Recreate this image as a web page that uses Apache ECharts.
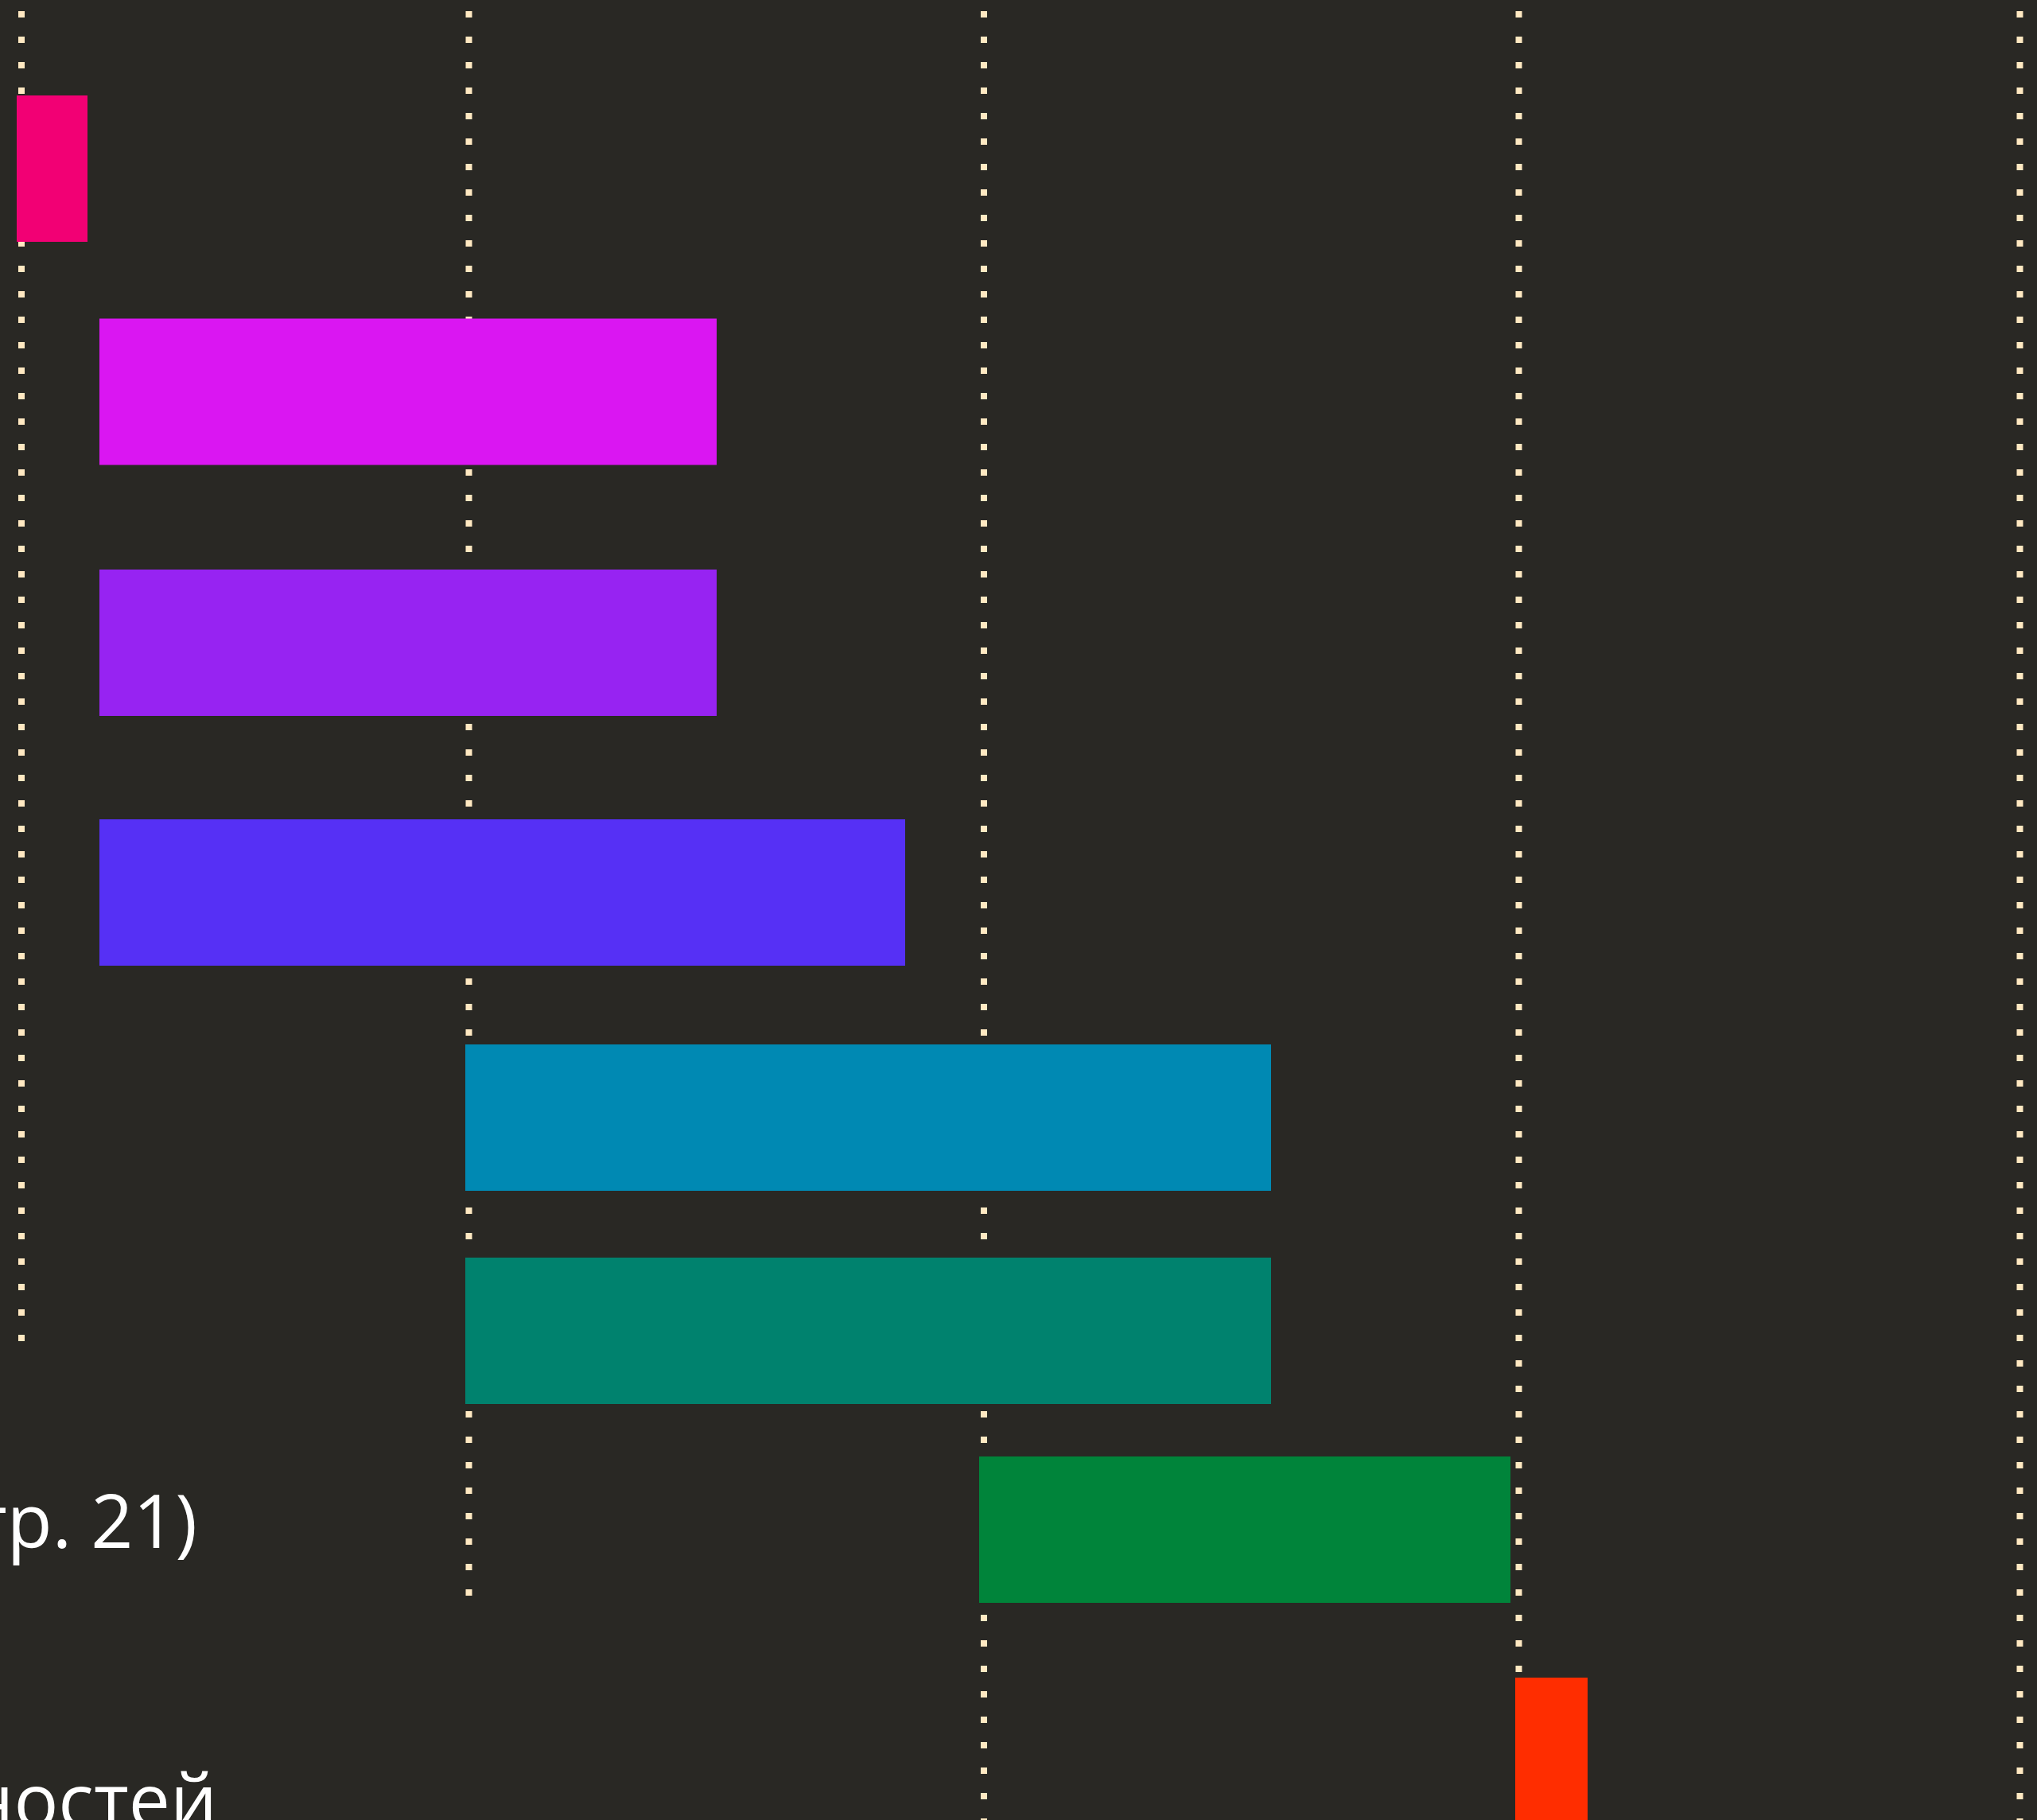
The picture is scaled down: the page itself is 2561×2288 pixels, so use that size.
<!DOCTYPE html>
<html>
<head>
<meta charset="utf-8">
<script src="https://cdn.jsdelivr.net/npm/echarts@6/dist/echarts.min.js"></script>
<style>
html,body{margin:0;padding:0;background:#292824;overflow:hidden;}
#chart{width:2561px;height:2288px;}
</style>
</head>
<body>
<div id="chart"></div>
<script>
// ---- data (timeline units along x, row positions along y) ----
const rowPositions = [212, 492.5, 808, 1122, 1405, 1673, 1923, 2201];
const taskStart    = [21, 125, 125, 125, 585, 585, 1231, 1905];
const taskEnd      = [110, 901, 901, 1138, 1598, 1598, 1899, 1996];
const taskLabels   = ['', '', '', '', '', '', '(см. стр. 21)', 'потребностей'];
const milestoneX    = [27, 589.5, 1237, 1909.5, 2539.5];
const milestoneEndY = [1686, 2006, 2300, 2300, 2300];

// ---- style / layout ----
const palette = ['#F20074', '#DA16F2', '#9723F2', '#5630F5', '#0089B3', '#00826E', '#00843A', '#FF2D00'];
const BG = '#292824';
const DOT = '#FFE9C2';
const BAR_THICKNESS = 184;
const LINE_START = 14;
const labelLayout = { 6: { right: 248, dy: -4 }, 7: { right: 273, dy: 69 } };

const barData = rowPositions.map((r, i) => [r, taskStart[i], taskEnd[i], i]);
const lineData = milestoneX.map((x, i) => [x, LINE_START, milestoneEndY[i]]);
const labelData = rowPositions.map((r, i) => [r, i]);

const chart = echarts.init(document.getElementById('chart'), null, { renderer: 'canvas' });
chart.setOption({
  backgroundColor: BG,
  animation: false,
  grid: { left: 0, right: 0, top: 0, bottom: 0, containLabel: false },
  xAxis: { type: 'value', min: 0, max: 2561, show: false, splitLine: { show: false } },
  yAxis: { type: 'value', min: 0, max: 2288, inverse: true, show: false, splitLine: { show: false } },
  series: [
    {
      type: 'custom',
      z: 1,
      clip: false,
      data: lineData,
      renderItem: function (params, api) {
        const p0 = api.coord([api.value(0), api.value(1)]);
        const p1 = api.coord([api.value(0), api.value(2)]);
        return {
          type: 'line',
          shape: { x1: p0[0], y1: p0[1], x2: p1[0], y2: p1[1] },
          style: { stroke: DOT, lineWidth: 8, lineDash: [8, 24], lineCap: 'butt' }
        };
      }
    },
    {
      type: 'custom',
      z: 2,
      clip: false,
      encode: { x: [1, 2], y: 0 },
      data: barData,
      renderItem: function (params, api) {
        const row = api.value(0);
        const a = api.coord([api.value(1), row]);
        const b = api.coord([api.value(2), row]);
        const h = Math.abs(api.size([0, BAR_THICKNESS])[1]);
        return {
          type: 'rect',
          shape: { x: a[0], y: a[1] - h / 2, width: b[0] - a[0], height: h },
          style: { fill: palette[api.value(3)] }
        };
      }
    },
    {
      type: 'custom',
      z: 3,
      clip: false,
      data: labelData,
      renderItem: function (params, api) {
        const idx = api.value(1);
        const text = taskLabels[idx];
        const lay = labelLayout[idx];
        if (!text || !lay) return null;
        const p = api.coord([0, api.value(0)]);
        return {
          type: 'text',
          style: {
            text: text,
            x: lay.right,
            y: p[1] + lay.dy,
            fill: '#FFFFFF',
            fontSize: 93,
            fontFamily: '"Open Sans", "Noto Sans", sans-serif',
            fontWeight: 'normal',
            align: 'right',
            verticalAlign: 'middle'
          }
        };
      }
    }
  ]
});
</script>
</body>
</html>
